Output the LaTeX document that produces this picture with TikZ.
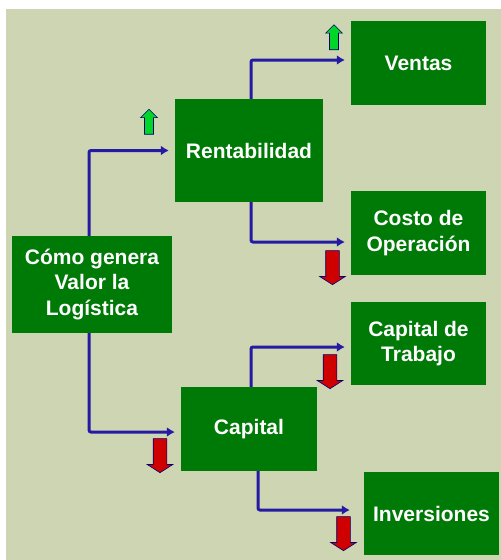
\documentclass[tikz,border=0pt]{standalone}
\usepackage{fontspec}
\setmainfont{Liberation Sans}
\usepackage{tikz}
\usetikzlibrary{shapes,arrows.meta,calc,positioning}
\definecolor{bgolive}{RGB}{205,213,178}
\definecolor{boxgreen}{RGB}{0,122,6}
\definecolor{linkblue}{RGB}{36,26,164}
\definecolor{upgreen}{RGB}{0,214,40}
\definecolor{downred}{RGB}{206,0,0}
\tikzset{
    box/.style ={rectangle, fill=boxgreen, text=white, align=center, inner sep=0pt,
                 font=\bfseries\fontsize{21}{25.5}\selectfont},
    link/.style ={-{Latex[length=8pt,width=10pt]}, linkblue, line width=3pt,
                  rounded corners=2pt, shorten >=6pt},
    upmark/.style ={single arrow, shape border rotate=90, fill=upgreen, draw=blue!45!black,
                line width=0.6pt, inner sep=4.2pt, single arrow head extend=3.8pt,
                minimum height=25pt, node contents={}},
    downmark/.style ={single arrow, shape border rotate=270, fill=downred, draw=blue!45!black,
                  line width=0.6pt, inner sep=6.5pt, single arrow head extend=6pt,
                  single arrow tip angle=115, minimum height=34pt, node contents={}}
}
\begin{document}
\begin{tikzpicture}[x=1pt,y=-1pt]
    % background
    \useasboundingbox (0,0) rectangle (501,560);
    \fill[bgolive] (6,9) rectangle (501,560);

    %%Nodes
    \node[box, minimum width=160pt, minimum height=97pt] (como) at (92,284.5) {Cómo genera\\Valor la\\Logística};
    \node[box, minimum width=148pt, minimum height=103pt] (rent) at (249,150.5) {Rentabilidad};
    \node[box, minimum width=136pt, minimum height=84pt] (capital) at (249,429) {Capital};
    \node[box, minimum width=135pt, minimum height=84pt] (ventas) at (418.5,63) {Ventas};
    \node[box, minimum width=135pt, minimum height=84pt] (costo) at (418.5,233) {Costo de\\Operación};
    \node[box, minimum width=135pt, minimum height=83pt] (trabajo) at (418.5,343.5) {Capital de\\Trabajo};
    \node[box, minimum width=135pt, minimum height=83pt] (inversiones) at (431.5,513.5) {Inversiones};

    % Directed edge
    \draw[link] ([xshift=-3pt]como.north) |- (rent.west);
    \draw[link] ([xshift=-3pt]como.south) |- ([yshift=-3pt]capital.west);
    \draw[link] ([xshift=2pt]rent.north) |- ([yshift=3pt]ventas.west);
    \draw[link] ([xshift=2pt]rent.south) |- ([yshift=-9pt]costo.west);
    \draw[link] ([xshift=2pt]capital.north) |- ([yshift=-3.5pt]trabajo.west);
    \draw[link, shorten >=14pt] ([xshift=9pt]capital.south) |- ([yshift=3.5pt]inversiones.west);

    %%up and down marks
    \node (up1) at (149,124) [upmark];
    \node (up2) at (334,39.5) [upmark];
    \node (down1) at (332.5,265.5) [downmark];
    \node (down2) at (330,369.5) [downmark];
    \node (down3) at (160,453.5) [downmark];
    \node (down4) at (343.5,531.5) [downmark];
\end{tikzpicture}
\end{document}
